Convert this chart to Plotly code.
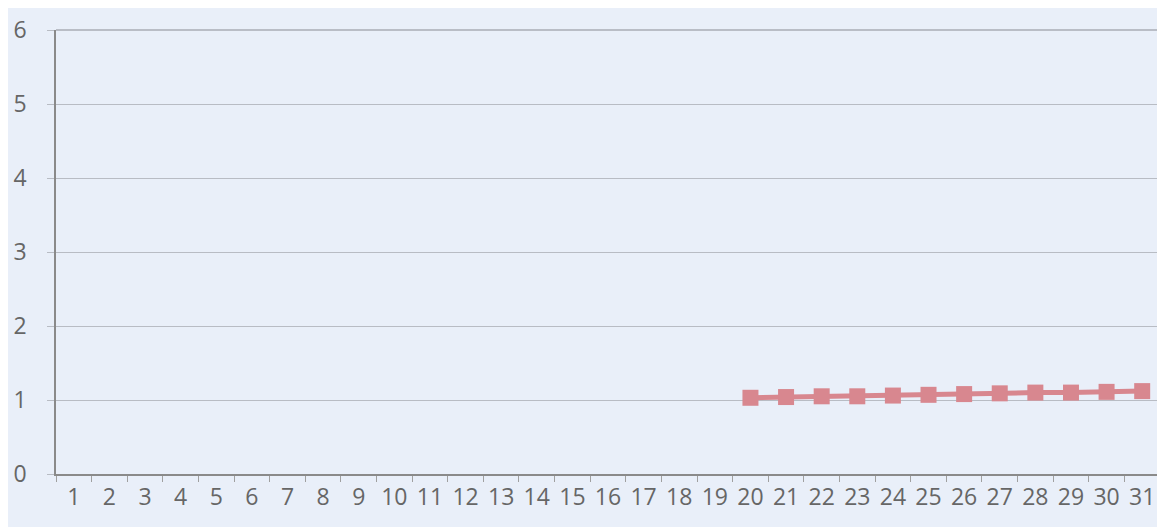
import plotly.graph_objects as go

categories = [str(i) for i in range(1, 32)]
series_x = [str(i) for i in range(20, 32)]
series_y = [1.03, 1.04, 1.05, 1.05, 1.06, 1.07, 1.08, 1.09, 1.10, 1.10, 1.11, 1.12]
y_ticks = [0, 1, 2, 3, 4, 5, 6]

bg = "#e9eff9"
fig = go.Figure()
fig.add_trace(go.Scatter(
    x=series_x, y=series_y, mode="lines+markers",
    line=dict(color="#d8878f", width=5),
    marker=dict(symbol="square", size=16, color="#d8878f"),
    showlegend=False, cliponaxis=False,
))
fig.add_shape(type="line", xref="paper", yref="paper", x0=0.999, x1=0.999, y0=0, y1=1,
              line=dict(color="#a8acb4", width=1.5))
fig.add_shape(type="line", xref="paper", yref="paper", x0=0, x1=1, y0=1, y1=1,
              line=dict(color="#a8acb4", width=1.5))
fig.update_layout(
    width=1157, height=519,
    paper_bgcolor=bg, plot_bgcolor=bg,
    margin=dict(l=42, r=5, t=18, b=53),
    font=dict(family="Open Sans, Lato, sans-serif", size=23, color="#666666"),
)
fig.update_xaxes(
    type="category", categoryorder="array", categoryarray=categories,
    tickvals=categories, ticktext=categories,
    range=[-0.5, 30.5],
    showline=True, linecolor="#8a8a8a", linewidth=1.5,
    ticks="outside", tickson="boundaries", ticklen=6, tickcolor="#a0a0a0",
    showgrid=False, ticklabelstandoff=2, tickfont=dict(size=23),
)
fig.update_yaxes(
    range=[0, 6], tickvals=y_ticks,
    showline=True, linecolor="#8a8a8a", linewidth=1.5,
    showgrid=True, gridcolor="#b8bcc4", gridwidth=1,
    ticks="outside", ticklen=7, tickcolor="#b8bcc4",
    zeroline=False, ticklabelstandoff=16, tickfont=dict(size=23),
)
fig.write_html("out.html")
